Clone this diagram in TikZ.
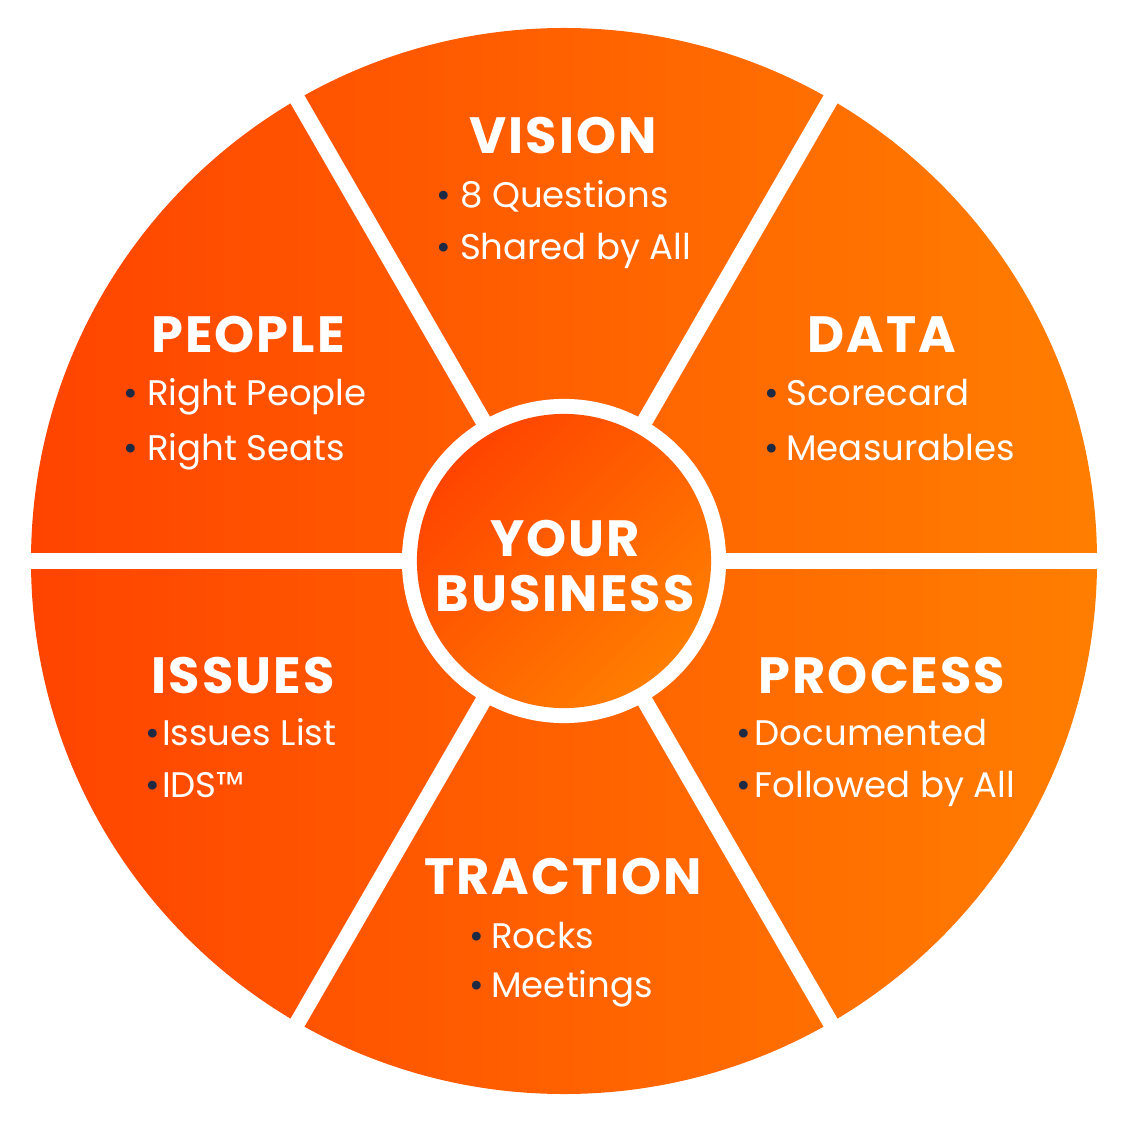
\documentclass[tikz,border=0pt]{standalone}
\usepackage{fontspec}
\setmainfont{Poppins}
\usetikzlibrary{positioning}
\definecolor{wheelred}{RGB}{255,68,0}
\definecolor{wheelorange}{RGB}{255,126,0}
\definecolor{dotnavy}{RGB}{30,42,68}
\newcommand{\dotitem}[2][2.5pt]{{\color{dotnavy}\textbullet}\hspace{#1}#2}
\tikzset{
    spoke/.style = {white, line width=0.16cm},
    heading/.style = {text=white, font=\fontsize{14.5}{16}\selectfont\bfseries\addfontfeatures{LetterSpace=4}, anchor=base, inner sep=0pt},
    item/.style = {text=white, font=\fontsize{10.1}{12}\selectfont, anchor=base west, inner sep=0pt},
    ring/.style = {circle, fill=white, minimum size=3.24cm, inner sep=0pt},
    hub/.style = {circle, minimum size=2.94cm, inner sep=0pt, top color=wheelred, bottom color=wheelorange, shading angle=45}
}

\begin{document}
\begin{tikzpicture}[x=0.01cm, y=-0.01cm]
    \useasboundingbox (0,0) rectangle (1122,1125);
    \coordinate (c) at (564,561);

    % wheel and spokes
    \shade[left color=wheelred, right color=wheelorange] (c) circle (533);
    \draw[spoke] (c) -- +(0:545);
    \draw[spoke] (c) -- +(60:545);
    \draw[spoke] (c) -- +(120:545);
    \draw[spoke] (c) -- +(180:545);
    \draw[spoke] (c) -- +(240:545);
    \draw[spoke] (c) -- +(300:545);

    % centre
    \node[ring] (ring) at (c) {};
    \node[hub] (hub) at (c) {};
    \node[text=white, font=\fontsize{14.5}{15.6}\selectfont\bfseries\addfontfeatures{LetterSpace=4}, align=center, inner sep=0pt] (business) at (565,566) {YOUR\\BUSINESS};

    % sectors
    \node[heading] (vision) at (563,154) {VISION};
    \node[item] (vision1) at (436,208) {\dotitem{8 Questions}};
    \node[item] (vision2) at (436,260) {\dotitem{Shared by All}};

    \node[heading] (people) at (248,353) {PEOPLE};
    \node[item] (people1) at (123,406) {\dotitem{Right People}};
    \node[item] (people2) at (123,461) {\dotitem{Right Seats}};

    \node[heading] (data) at (882,353) {DATA};
    \node[item] (data1) at (764,406) {\dotitem[2pt]{Scorecard}};
    \node[item] (data2) at (764,461) {\dotitem[2pt]{Measurables}};

    \node[heading] (issues) at (243,693) {ISSUES};
    \node[item] (issues1) at (145,745) {\dotitem[0.5pt]{Issues List}};
    \node[item] (issues2) at (145,797) {\dotitem[0.5pt]{IDS™}};

    \node[heading] (process) at (882,693) {PROCESS};
    \node[item] (process1) at (736,745) {\dotitem[1pt]{Documented}};
    \node[item] (process2) at (736,797) {\dotitem[1pt]{Followed by All}};

    \node[heading] (traction) at (563,894) {TRACTION};
    \node[item] (traction1) at (469,948) {\dotitem[2pt]{Rocks}};
    \node[item] (traction2) at (469,997) {\dotitem[2pt]{Meetings}};
\end{tikzpicture}
\end{document}
